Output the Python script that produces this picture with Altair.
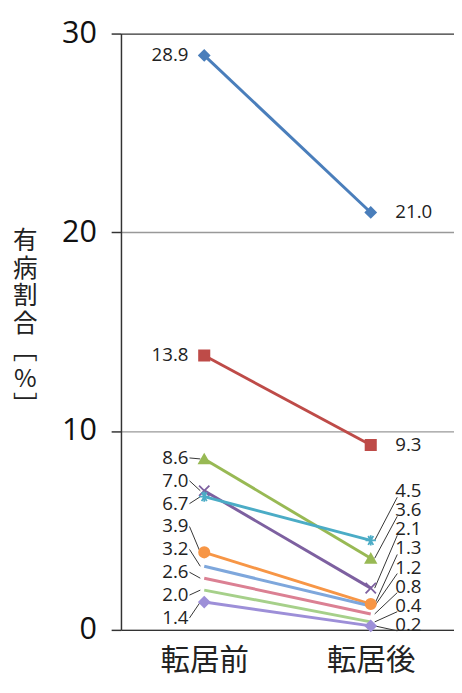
import altair as alt
import pandas as pd

# ---- data ----
series = ["s1", "s2", "s3", "s4", "s5", "s6", "s7", "s8", "s9", "s10"]
phases = ["転居前", "転居後"]
before = [28.9, 13.8, 8.6, 7.0, 6.7, 3.9, 3.2, 2.6, 2.0, 1.4]
after = [21.0, 9.3, 3.6, 2.1, 4.5, 1.3, 1.2, 0.8, 0.4, 0.2]

# ---- styles ----
colors = ["#4a7ebb", "#be4b48", "#98b954", "#7d60a0", "#4bacc6",
          "#f79646", "#7ea7dc", "#db8093", "#a6d08a", "#9d8fd8"]
X_PATH = "M-1,-1L1,1M-1,1L1,-1"
STAR_PATH = "M-1,0L1,0M-0.5,-0.87L0.5,0.87M-0.5,0.87L0.5,-0.87M0,-1L0,1"
shapes = ["diamond", "square", "triangle-up", X_PATH, STAR_PATH,
          "circle", "M0,0", "M0,0", "M0,0", "diamond"]


def label_slots(vals, start, step, big=9.0):
    """Spread labels of the small values evenly (layout only)."""
    order = sorted([i for i, v in enumerate(vals) if v < big], key=lambda i: -vals[i])
    pos = list(vals)
    for k, i in enumerate(order):
        pos[i] = start - step * k
    return pos


pre_slots = label_slots(before, 8.65, 1.15)
post_slots = label_slots(after, 6.97, 0.96)

rows = []
for s, b, a, pb, pa in zip(series, before, after, pre_slots, post_slots):
    rows.append(dict(series=s, phase=phases[0], value=b, label_y=pb, small=b < 9))
    rows.append(dict(series=s, phase=phases[1], value=a, label_y=pa, small=a < 9))
df = pd.DataFrame(rows)
df_pre = df[df.phase == phases[0]]
df_post = df[df.phase == phases[1]]

x_enc = alt.X(
    "phase:N", sort=phases,
    scale=alt.Scale(type="point", padding=0.5),
    axis=alt.Axis(title=None, ticks=False, grid=False, domain=True,
                  domainColor="#333", domainWidth=1.5, labelAngle=0,
                  labelFont="Noto Sans CJK JP", labelFontSize=30,
                  labelColor="#222", labelPadding=16),
)
y_scale = alt.Scale(domain=[0, 30], nice=False)
y_enc = alt.Y(
    "value:Q", scale=y_scale,
    axis=alt.Axis(values=[0, 10, 20, 30], format="d",
                  title=["有", "病", "割", "合", "﹇", "%", "﹈"],
                  titleAngle=0, titleFont="Noto Sans CJK JP", titleFontSize=25,
                  titleFontWeight="normal", titleColor="#222", titleLineHeight=28,
                  titleX=-98, titleY=211, titleAlign="center", titleBaseline="middle",
                  labelFont="Open Sans", labelFontSize=31, labelColor="#111",
                  labelPadding=15, tickSize=10, tickColor="#333", tickWidth=1.5,
                  domainColor="#333", domainWidth=1.5,
                  grid=True, gridWidth=1.3,
                  gridColor={"condition": {"test": "datum.value == 30", "value": "#333"},
                             "value": "#999"}),
)
color_enc = alt.Color("series:N", scale=alt.Scale(domain=series, range=colors), legend=None)

base = alt.Chart(df)

lines = base.mark_line(strokeWidth=3).encode(x=x_enc, y=y_enc, color=color_enc, detail="series:N")

points = base.mark_point(filled=True, size=110, strokeWidth=1.8, opacity=1).encode(
    x=alt.X("phase:N", sort=phases),
    y=alt.Y("value:Q"),
    color=color_enc,
    stroke=alt.Stroke("series:N", scale=alt.Scale(domain=series, range=colors), legend=None),
    shape=alt.Shape("series:N", scale=alt.Scale(domain=series, range=shapes), legend=None),
)

text_style = dict(font="Open Sans", fontSize=19, color="#222", baseline="middle")

pre_labels = alt.Chart(df_pre).mark_text(align="right", xOffset=-16, **text_style).encode(
    x=alt.X("phase:N", sort=phases), y=alt.Y("label_y:Q"),
    text=alt.Text("value:Q", format=".1f"))
post_labels = alt.Chart(df_post).mark_text(align="left", xOffset=25, **text_style).encode(
    x=alt.X("phase:N", sort=phases), y=alt.Y("label_y:Q"),
    text=alt.Text("value:Q", format=".1f"))

pre_leaders = alt.Chart(df_pre[df_pre.small]).mark_rule(
    color="#333", strokeWidth=1, xOffset=-4, x2Offset=-15).encode(
    x=alt.X("phase:N", sort=phases), x2=alt.X2("phase"),
    y=alt.Y("value:Q"), y2=alt.Y2("label_y"))
post_leaders = alt.Chart(df_post[df_post.small]).mark_rule(
    color="#333", strokeWidth=1, xOffset=4, x2Offset=27, y2Offset=6).encode(
    x=alt.X("phase:N", sort=phases), x2=alt.X2("phase"),
    y=alt.Y("value:Q"), y2=alt.Y2("label_y"))

chart = alt.layer(
    lines, pre_leaders, post_leaders, points, pre_labels, post_labels
).properties(
    width=339, height=607,
    autosize=alt.AutoSizeParams(type="none"),
    padding={"left": 115, "top": 20, "right": 0, "bottom": 45},
    background="white",
).configure_view(stroke=None)

chart.save("out.html", embed_options={"renderer": "svg", "actions": False})
